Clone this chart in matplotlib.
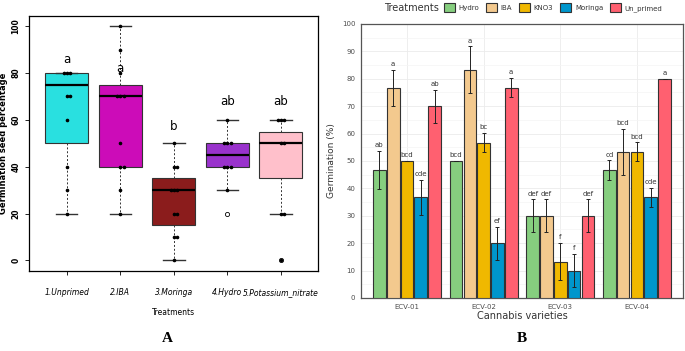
import numpy as np
import matplotlib
matplotlib.use("Agg")
from matplotlib import pyplot as plt
from matplotlib.patches import Patch

# ---------------- Panel A data (box plot) ----------------
treat_labels = ['1.Unprimed', '2.IBA', '3.Moringa', '4.Hydro', '5.Potassium_nitrate']
box_colors = ['#29E0E0', '#CC0CB8', '#8B1C1C', '#9932CC', '#FFC0CB']
q1 = [50, 40, 15, 40, 35]
med = [75, 70, 30, 45, 50]
q3 = [80, 75, 35, 50, 55]
whis_lo = [20, 20, 0, 30, 20]
whis_hi = [80, 100, 50, 60, 60]
outliers = [[], [], [], [20], [0]]
points = [
    [80, 80, 80, 70, 70, 60, 40, 30, 20],
    [100, 90, 80, 70, 70, 70, 50, 40, 40, 30, 20],
    [50, 40, 40, 30, 30, 30, 20, 20, 10, 10, 0],
    [60, 50, 50, 50, 40, 40, 40, 30],
    [60, 60, 60, 50, 50, 20, 20, 0],
]
letters_a = ['a', 'a', 'b', 'ab', 'ab']
letters_a_y = [86, 82, 57, 68, 68]

# ---------------- Panel B data (grouped bars) ----------------
varieties = ['ECV-01', 'ECV-02', 'ECV-03', 'ECV-04']
treatments = ['Hydro', 'IBA', 'KNO3', 'Moringa', 'Un_primed']
bar_colors = ['#86CE7F', '#F3C98E', '#F0B800', '#0096CC', '#FF6070']
germ = {
    'Hydro':     [46.7, 50.0, 30.0, 46.7],
    'IBA':       [76.7, 83.3, 30.0, 53.3],
    'KNO3':      [50.0, 56.7, 13.3, 53.3],
    'Moringa':   [36.7, 20.0, 10.0, 36.7],
    'Un_primed': [70.0, 76.7, 30.0, 80.0],
}
err = {
    'Hydro':     [7.0, 0.0, 6.0, 3.5],
    'IBA':       [6.5, 8.5, 6.0, 8.5],
    'KNO3':      [0.0, 3.5, 6.7, 3.5],
    'Moringa':   [6.5, 6.0, 6.0, 3.5],
    'Un_primed': [6.0, 3.5, 6.0, 0.0],
}
sig = {
    'Hydro':     ['ab', 'bcd', 'def', 'cd'],
    'IBA':       ['a', 'a', 'def', 'bcd'],
    'KNO3':      ['bcd', 'bc', 'f', 'bcd'],
    'Moringa':   ['cde', 'ef', 'f', 'cde'],
    'Un_primed': ['ab', 'a', 'def', 'a'],
}

fig = plt.figure(figsize=(6.85, 3.51), dpi=100)

# ================= Panel A =================
axA = fig.add_axes([0.042, 0.228, 0.422, 0.726])
stats = []
for i in range(len(treat_labels)):
    stats.append(dict(q1=q1[i], med=med[i], q3=q3[i], whislo=whis_lo[i],
                      whishi=whis_hi[i], fliers=outliers[i]))
bp = axA.bxp(stats, positions=range(1, 6), widths=0.8, patch_artist=True,
             showfliers=True,
             boxprops=dict(edgecolor='#333333', linewidth=0.8),
             medianprops=dict(color='black', linewidth=1.6),
             whiskerprops=dict(color='#333333', linestyle=(0, (2, 2)), linewidth=0.7),
             capprops=dict(color='#333333', linewidth=1.0),
             flierprops=dict(marker='o', markerfacecolor='none',
                             markeredgecolor='black', markersize=3, markeredgewidth=0.6))
for patch, c in zip(bp['boxes'], box_colors):
    patch.set_facecolor(c)

# jittered raw points
for i, vals in enumerate(points):
    seen = {}
    for v in vals:
        k = seen.get(v, 0)
        seen[v] = k + 1
        off = [0.0, 0.06, -0.06, 0.11][k % 4]
        axA.plot(i + 1 + off, v, 'o', color='black', markersize=1.6)

for i, (lab, yy) in enumerate(zip(letters_a, letters_a_y)):
    axA.text(i + 1, yy, lab, ha='center', va='center', fontsize=8.5)

axA.set_xlim(0.29, 5.69)
axA.set_ylim(-4.5, 104.3)
axA.set_yticks([0, 20, 40, 60, 80, 100])
axA.set_yticklabels(['0', '20', '40', '60', '80', '100'], rotation=90,
                    va='center', fontsize=5.5, fontweight='bold')
axA.set_xticks(range(1, 6))
axA.set_xticklabels(treat_labels, fontsize=5.5, style='italic')
axA.tick_params(axis='both', length=3, width=0.6)
axA.tick_params(axis='y', pad=3)
axA.tick_params(axis='x', pad=9)
axA.set_xlabel('Treatments', fontsize=5.5, labelpad=8)
axA.set_ylabel('Germination seed percentage', fontsize=6, fontweight='bold')
axA.yaxis.set_label_coords(-0.072, 0.5)
for s in axA.spines.values():
    s.set_linewidth(0.9)

# ================= Panel B =================
axB = fig.add_axes([0.527, 0.151, 0.470, 0.781])
x = np.arange(1, len(varieties) + 1)
slot = 0.18
bw = 0.165
for j, t in enumerate(treatments):
    xpos = x + (j - 2) * slot
    vals = np.array(germ[t])
    e = np.array(err[t])
    axB.bar(xpos, vals, width=bw, color=bar_colors[j], edgecolor='#333333',
            linewidth=0.8, zorder=3, label=t)
    axB.errorbar(xpos, vals, yerr=e, fmt='none', ecolor='#222222',
                 elinewidth=0.7, capsize=1.2, capthick=0.7, zorder=4)
    for xi, v, ei, lab in zip(xpos, vals, e, sig[t]):
        axB.text(xi, v + ei + 1.0, lab, ha='center', va='bottom',
                 fontsize=5, color='#333333', zorder=5)

axB.set_xlim(0.4, 4.6)
axB.set_ylim(0, 100)
axB.set_yticks(np.arange(0, 101, 10))
axB.set_yticks(np.arange(5, 100, 10), minor=True)
axB.set_xticks(x)
axB.set_xticklabels(varieties)
axB.tick_params(axis='both', which='both', length=0, labelsize=5,
                labelcolor='#4D4D4D', pad=4)
axB.grid(True, which='major', color='#EBEBEB', linewidth=0.6, zorder=0)
axB.grid(True, which='minor', axis='y', color='#F4F4F4', linewidth=0.5, zorder=0)
axB.set_axisbelow(True)
axB.set_xlabel('Cannabis varieties', fontsize=7, color='#333333', labelpad=1)
axB.set_ylabel('Germination (%)', fontsize=6.5, color='#333333', labelpad=4)
for s in axB.spines.values():
    s.set_color('#555555')
    s.set_linewidth(0.9)

# legend on top, title to the left
fig.text(0.641, 0.978, 'Treatments', ha='right', va='center', fontsize=7,
         color='#333333')
handles = [Patch(facecolor=c, edgecolor='#333333', linewidth=0.8) for c in bar_colors]
fig.legend(handles, treatments, loc='center left', bbox_to_anchor=(0.643, 0.978),
           ncol=5, frameon=False, fontsize=5, handlelength=1.6, handleheight=1.6,
           handletextpad=0.5, columnspacing=1.0, borderpad=0.0,
           labelcolor='#333333')

# panel labels
fig.text(0.245, 0.017, 'A', ha='center', va='bottom', fontsize=11,
         fontweight='bold', family='Liberation Serif')
fig.text(0.762, 0.017, 'B', ha='center', va='bottom', fontsize=11,
         fontweight='bold', family='Liberation Serif')

fig.savefig('out.png', dpi=100)
